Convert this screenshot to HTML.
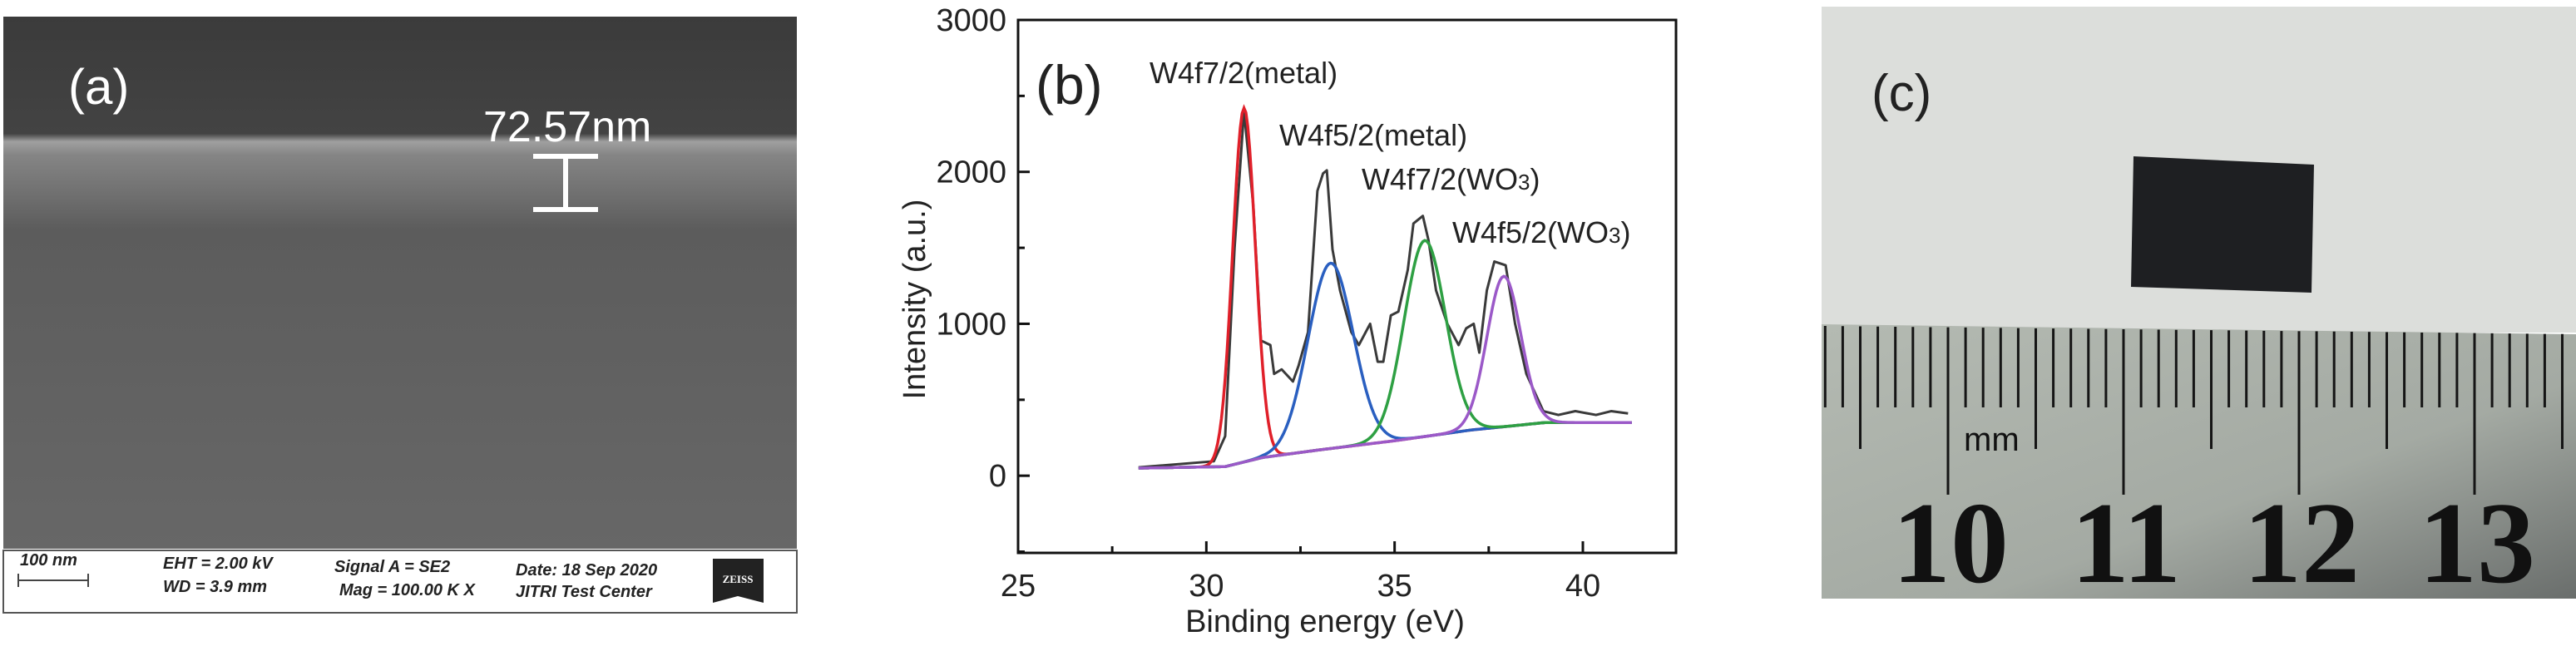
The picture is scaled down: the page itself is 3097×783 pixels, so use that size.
<!DOCTYPE html>
<html><head><meta charset="utf-8"><style>
html,body{margin:0;padding:0;background:#fff;}
svg{display:block;font-family:"Liberation Sans",sans-serif;}
</style></head><body>
<svg id="fig" width="3097" height="783" viewBox="0 0 3097 783" xmlns="http://www.w3.org/2000/svg">
<defs>
<linearGradient id="semg" x1="0" y1="0" x2="0" y2="1">
<stop offset="0" stop-color="#3b3b3b"/><stop offset="0.22" stop-color="#434343"/>
<stop offset="0.235" stop-color="#a0a0a0"/><stop offset="0.26" stop-color="#858585"/>
<stop offset="0.34" stop-color="#6e6e6e"/><stop offset="0.40" stop-color="#5c5c5c"/>
<stop offset="1" stop-color="#676767"/></linearGradient>
<linearGradient id="rulerg" x1="0" y1="0" x2="1" y2="1">
<stop offset="0" stop-color="#b4bab2"/><stop offset="0.6" stop-color="#a4aaa3"/><stop offset="1" stop-color="#6a6e6c"/></linearGradient>
</defs>

<!-- Panel a -->
<g>
<rect x="4" y="20" width="954" height="640" fill="url(#semg)"/>
<text x="82" y="125" font-size="60" fill="#fff">(a)</text>
<text x="581" y="170" font-size="52" fill="#fff">72.57nm</text>
<g stroke="#fff" stroke-width="6">
<line x1="641" y1="188" x2="719" y2="188"/><line x1="680" y1="188" x2="680" y2="252"/><line x1="641" y1="252" x2="719" y2="252"/></g>
<rect x="4" y="662" width="954" height="75" fill="#fff" stroke="#555" stroke-width="2"/>
<g font-size="20" font-style="italic" font-weight="bold" fill="#222">
<text x="24" y="680">100 nm</text>
<line x1="22" y1="698" x2="106" y2="698" stroke="#444" stroke-width="2"/><line x1="22" y1="690" x2="22" y2="706" stroke="#444" stroke-width="2"/><line x1="106" y1="690" x2="106" y2="706" stroke="#444" stroke-width="2"/>
<text x="196" y="684">EHT =  2.00 kV</text>
<text x="196" y="712">WD =  3.9 mm</text>
<text x="402" y="688">Signal A = SE2</text>
<text x="408" y="716">Mag =  100.00 K X</text>
<text x="620" y="692">Date: 18 Sep 2020</text>
<text x="620" y="718">JITRI Test Center</text>
</g>
<path d="M857 672 H918 V725 L887 717 L857 725 Z" fill="#222"/>
<text x="887" y="701" font-size="13" fill="#fff" text-anchor="middle" font-family="Liberation Serif,serif" font-weight="bold">ZEISS</text>
</g>

<!-- Panel b -->
<g id="chart">
<rect x="1224" y="24" width="791" height="641" fill="#fff" stroke="#111" stroke-width="3"/>
<g id="ticks"></g>
<g id="series"></g>
<text x="1593" y="760" font-size="38" text-anchor="middle" fill="#222">Binding energy (eV)</text>
<text transform="translate(1112,360) rotate(-90)" font-size="38" text-anchor="middle" fill="#222">Intensity (a.u.)</text>
<text x="1245" y="125" font-size="66" fill="#222">(b)</text>
<g font-size="36" fill="#222">
<text x="1382" y="100">W4f7/2(metal)</text>
<text x="1538" y="175">W4f5/2(metal)</text>
<text x="1637" y="228">W4f7/2(WO<tspan font-size="26">3</tspan>)</text>
<text x="1746" y="292">W4f5/2(WO<tspan font-size="26">3</tspan>)</text>
</g>
</g>

<!-- Panel c -->
<g>
<rect x="2190" y="8" width="907" height="392" fill="#dcdedb"/>
<polygon points="2190,390 3097,402 3097,720 2190,720" fill="url(#rulerg)"/>
<g id="ruler-ticks"></g>
<polygon points="2565,188 2782,198 2779,352 2562,345" fill="#1e1f22"/>
<text x="2250" y="133" font-size="62" fill="#222">(c)</text>
<text x="2361" y="542" font-size="40" fill="#111">mm</text>
<g font-family="Liberation Serif,serif" font-weight="bold" font-size="140" fill="#111" text-anchor="middle">
<text x="2345" y="700">10</text>
<text x="2556" y="700">11</text>
<text x="2767" y="700">12</text>
<text x="2978" y="700">13</text>
<text x="3189" y="700">14</text>
</g>
<rect x="2190" y="720" width="907" height="63" fill="#fff"/>
</g>
</svg>
<script>
const xTicks=[25,30,35,40];
const xMinor=[27.5,32.5,37.5];
const yTicks=[0,1000,2000,3000];
const yMinor=[-500,500,1500,2500];
const rawE=[28.2,30.2,30.5,30.75,31.0,31.25,31.45,31.7,31.8,32.0,32.3,32.45,32.7,32.95,33.1,33.2,33.35,33.55,33.85,34.05,34.35,34.55,34.7,34.9,35.1,35.35,35.5,35.75,35.9,36.1,36.4,36.7,36.9,37.1,37.25,37.45,37.65,37.95,38.2,38.5,38.95,39.35,39.8,40.35,40.75,41.2];
const rawI=[55,95,260,1500,2400,1770,890,860,670,700,620,725,945,1875,1990,2010,1490,1220,945,860,1000,750,750,1055,1080,1355,1660,1710,1550,1220,1000,860,970,1000,810,1220,1410,1385,1000,670,425,400,425,400,425,410];
const bgE=[28.2,30.5,31.5,33,35,37,39,41.3];
const bgI=[50,60,120,170,230,300,350,350];
const peakCenters=[31.0,33.3,35.8,37.9];
const peakHeights=[2330,1220,1290,990];
const peakWidths=[0.3,0.6,0.55,0.45];
const peakColors=['#e0202a','#2a5fc0','#2ea043','#9b59c8'];
const peakNames=['fit-w4f72-metal','fit-w4f52-metal','fit-w4f72-wo3','fit-w4f52-wo3'];

const X0=1224,X1=2015,Y0=665,Y1=24;
const xMin=25,xMax=25+(X1-X0)/((1903-1224)/15);
const yMin=-508,yMax=3000;
function sx(v){return X0+(v-xMin)/(xMax-xMin)*(X1-X0);}
function sy(v){return Y0-(v-yMin)/(yMax-yMin)*(Y0-Y1);}
const NS='http://www.w3.org/2000/svg';
function mk(tag,attrs,parent){const e=document.createElementNS(NS,tag);for(const k in attrs)e.setAttribute(k,attrs[k]);parent.appendChild(e);return e;}
const tk=document.getElementById('ticks');
xTicks.forEach(v=>{
  const l=mk('line',{x1:sx(v),x2:sx(v),y1:Y0,y2:Y0-14,stroke:'#111','stroke-width':3},tk);
  
  
  const t=mk('text',{x:sx(v),y:Y0+52,'font-size':38,'text-anchor':'middle',fill:'#222'},tk);t.textContent=v;
  
  
});
xMinor.forEach(v=>{const l=mk('line',{x1:sx(v),x2:sx(v),y1:Y0,y2:Y0-8,stroke:'#111','stroke-width':3},tk);
  
  });
yTicks.forEach(v=>{
  const l=mk('line',{x1:X0,x2:X0+14,y1:sy(v),y2:sy(v),stroke:'#111','stroke-width':3},tk);
  
  
  const t=mk('text',{x:X0-14,y:sy(v)+13,'font-size':38,'text-anchor':'end',fill:'#222'},tk);t.textContent=v;
  
  
});
yMinor.forEach(v=>{const l=mk('line',{x1:X0,x2:X0+8,y1:sy(v),y2:sy(v),stroke:'#111','stroke-width':3},tk);
  
  });
function bg(e){if(e<=bgE[0])return bgI[0];for(let i=1;i<bgE.length;i++){if(e<=bgE[i]){const f=(e-bgE[i-1])/(bgE[i]-bgE[i-1]);return bgI[i-1]+f*(bgI[i]-bgI[i-1]);}}return bgI[bgI.length-1];}
const sg=document.getElementById('series');
const raw=mk('polyline',{points:rawE.map((e,i)=>sx(e)+','+sy(rawI[i])).join(' '),fill:'none',stroke:'#3a3a3a','stroke-width':3,'stroke-linejoin':'round'},sg);


peakCenters.forEach((c,p)=>{
  const pts=[];
  for(let e=28.2;e<=41.3;e+=0.05){pts.push(sx(e)+','+sy(bg(e)+peakHeights[p]*Math.exp(-Math.pow(e-c,2)/(2*peakWidths[p]*peakWidths[p]))));}
  const pl=mk('polyline',{points:pts.join(' '),fill:'none',stroke:peakColors[p],'stroke-width':3.5},sg);
  
  
});
const rt=document.getElementById('ruler-ticks');
for(let k=-7;k<=36;k++){
  const x=2342+21.1*k;if(x<2192||x>3097)continue;
  const top=392+(x-2190)*0.011;
  const bot=(k%10===0)?595:((k%5===0)?540:490);
  const l=mk('line',{x1:x,x2:x,y1:top,y2:bot,stroke:'#151515','stroke-width':3},rt);
  
  
}
</script>
</body></html>
